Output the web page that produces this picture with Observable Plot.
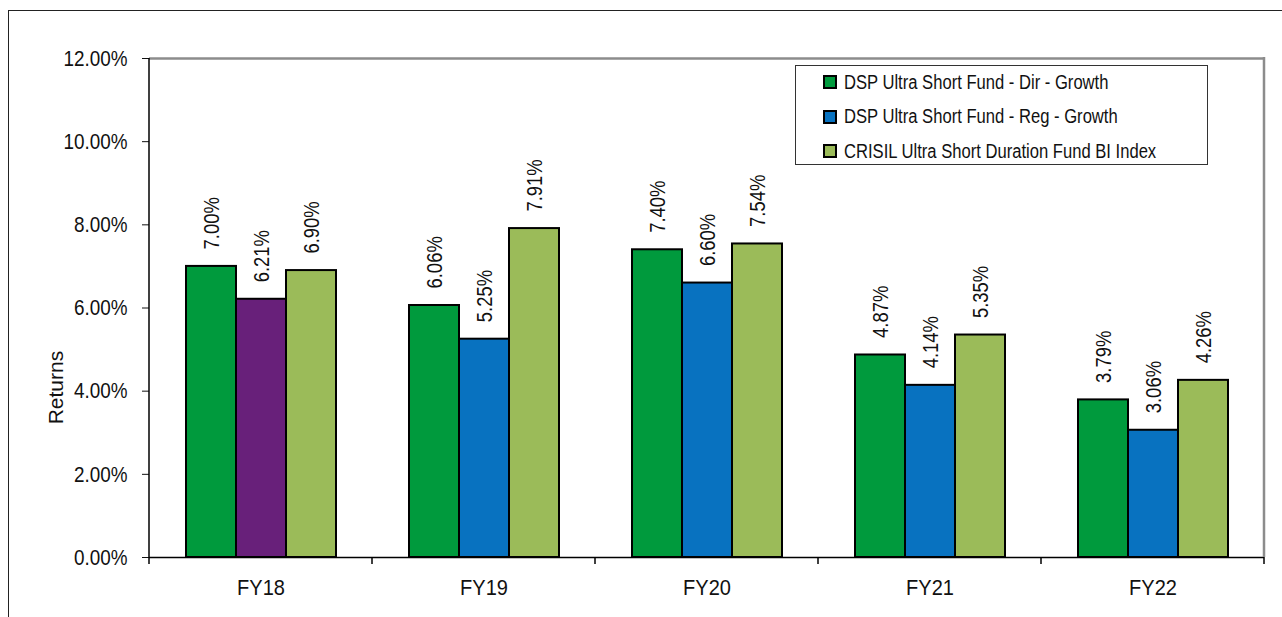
<!DOCTYPE html>
<html><head><meta charset="utf-8">
<script src="https://cdn.jsdelivr.net/npm/d3@7"></script>
<script src="https://cdn.jsdelivr.net/npm/@observablehq/plot@0.6"></script>
<style>
html,body{margin:0;padding:0;background:#fff;}
#wrap{position:relative;width:1282px;height:617px;overflow:hidden;background:#fff;}
#outer{position:absolute;left:8px;top:10px;width:1320px;height:700px;border:1.5px solid #222;}
#chart{position:absolute;left:0;top:0;}
#legend{position:absolute;left:795px;top:65px;width:413px;height:100px;border:1.5px solid #333;background:#fff;
  font-family:"Liberation Sans",Arial,sans-serif;font-size:20px;color:#111;box-sizing:border-box;}
.row{position:absolute;left:27px;height:24px;display:flex;align-items:center;white-space:nowrap;}
.sw{width:10px;height:10px;border:2px solid #000;margin-right:7px;flex:none;}
.row span{display:inline-block;transform:scaleX(0.83);transform-origin:left center;}
</style>
</head><body>
<div id="wrap"><div id="outer"></div><div id="chart"></div><div id="legend"></div></div>
<script>
const categories = ["FY18", "FY19", "FY20", "FY21", "FY22"];
const seriesNames = [
  "DSP Ultra Short Fund - Dir - Growth",
  "DSP Ultra Short Fund - Reg - Growth",
  "CRISIL Ultra Short Duration Fund BI Index"
];
const dirGrowth   = [7.00, 6.06, 7.40, 4.87, 3.79];
const regGrowth   = [6.21, 5.25, 6.60, 4.14, 3.06];
const crisilIndex = [6.90, 7.91, 7.54, 5.35, 4.26];
const seriesColors = ["#009a3d", "#0872c0", "#9bbb59"];
const highlightCategory = "FY18";          // the Reg bar of FY18 is purple in the original
const highlightColor = "#68207a";
const yTicks = [0, 2, 4, 6, 8, 10, 12];
const yLabel = "Returns";

const FONT = '"Liberation Sans",Arial,sans-serif';

const seriesValues = [dirGrowth, regGrowth, crisilIndex];
const table = [];
categories.forEach((c, i) => seriesValues.forEach((arr, k) =>
  table.push({cat: c, series: seriesNames[k], value: arr[i]})));

const colorOf = d => (d.cat === highlightCategory && d.series === seriesNames[1])
  ? highlightColor : seriesColors[seriesNames.indexOf(d.series)];

const plot = Plot.plot({
  width: 1282, height: 617,
  marginLeft: 149, marginRight: 18, marginTop: 58, marginBottom: 60,
  style: {fontFamily: FONT, fontSize: "22.5px", background: "transparent", color: "#111"},
  fx: {domain: categories, padding: 0, label: null, axis: "bottom", tickSize: 0, tickPadding: 22},
  x: {domain: seriesNames, paddingInner: 0, paddingOuter: 0.73, axis: null},
  y: {domain: [0, 12], ticks: yTicks, tickFormat: d => d.toFixed(2) + "%", tickSize: 7, tickPadding: 15,
      label: null},
  color: {type: "identity"},
  marks: [
    Plot.ruleY([12], {stroke: "#8c8c8c", strokeWidth: 2.5}),
    Plot.barY(table, {fx: "cat", x: "series", y: "value", fill: colorOf, stroke: "#000", strokeWidth: 2}),
    Plot.text(table, {fx: "cat", x: "series", y: "value", text: d => d.value.toFixed(2) + "%",
      rotate: -90, textAnchor: "start", dy: -17, fill: "#111"}),
    Plot.ruleY([0], {stroke: "#000", strokeWidth: 1.5})
  ]
});
document.getElementById("chart").appendChild(plot);

// frame edges and category-boundary ticks, placed with the plot's own scales
const svg = d3.select(plot);
const fxS = plot.scale("fx"), yS = plot.scale("y");
const y = d3.scaleLinear(yS.domain, yS.range);
const left = fxS.range[0], right = fxS.range[1];
const step = (right - left) / categories.length;
const g = svg.append("g");
g.append("line").attr("x1", right).attr("x2", right).attr("y1", y(12) - 1).attr("y2", y(0))
  .attr("stroke", "#8c8c8c").attr("stroke-width", 2.5);
g.append("line").attr("x1", left).attr("x2", left).attr("y1", y(12)).attr("y2", y(0))
  .attr("stroke", "#000").attr("stroke-width", 1.5);
d3.range(categories.length + 1).forEach(i => {
  const xx = left + i * step;
  g.append("line").attr("x1", xx).attr("x2", xx).attr("y1", y(0)).attr("y2", y(0) + 7)
    .attr("stroke", "#000").attr("stroke-width", 1.5);
});
// y-axis title
g.append("text").text(yLabel)
  .attr("transform", `translate(63,${(y(4) + y(4.15)) / 2}) rotate(-90)`)
  .attr("text-anchor", "middle").attr("fill", "#111")
  .style("font-family", FONT).style("font-size", "21px");

// condensed (narrow) look of the original's text: scale along the text direction only
const isNum = v => v != null && /^-?[\d.]+$/.test(String(v).trim());
function squeeze(sel, s) {
  sel.each(function () {
    const t = d3.select(this);
    const ax = t.attr("x"), ay = t.attr("y");
    const x = isNum(ax) ? +ax : 0, yv = isNum(ay) ? +ay : 0;
    if (isNum(ax)) t.attr("x", null);
    if (isNum(ay)) t.attr("y", null);
    const tr = t.attr("transform") || "";
    t.attr("transform", `${tr} translate(${x},${yv}) scale(${s},1)`);
  });
}
squeeze(svg.selectAll('[aria-label="y-axis tick label"] text'), 0.84);
squeeze(svg.selectAll('[aria-label="fx-axis tick label"] text'), 0.89);
squeeze(svg.selectAll('g[aria-label="text"] text'), 0.82);

// legend
const lg = d3.select("#legend");
seriesNames.forEach((s, k) => {
  const r = lg.append("div").attr("class", "row").style("top", (4 + k * 34.5) + "px");
  r.append("div").attr("class", "sw").style("background", seriesColors[k]);
  r.append("span").text(s);
});
</script>
</body></html>
